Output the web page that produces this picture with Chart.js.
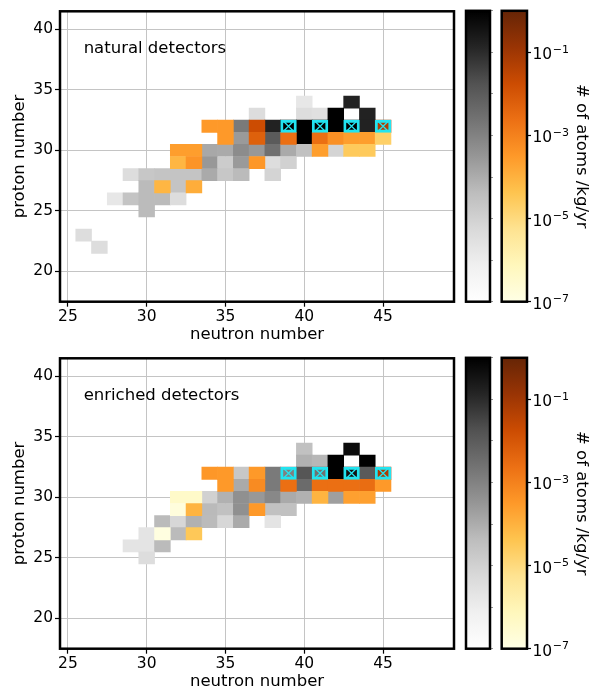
<!DOCTYPE html>
<html lang="en">
<head>
<meta charset="UTF-8">
<title>Cosmogenic activation map</title>
<script src="https://cdn.jsdelivr.net/npm/chart.js"></script>
<style>
  body { margin: 0; background: #fff; }
  .wrap { position: relative; width: 598px; height: 690px; }
  canvas { position: absolute; }
</style>
</head>
<body>
<div class="wrap">
  <canvas id="map0" width="465" height="347" style="left:0px;top:0px"></canvas>
  <canvas id="grey0" width="40" height="347" style="left:460px;top:0px"></canvas>
  <canvas id="orange0" width="102" height="347" style="left:496px;top:0px"></canvas>
  <canvas id="map1" width="465" height="347" style="left:0px;top:347px"></canvas>
  <canvas id="grey1" width="40" height="347" style="left:460px;top:347px"></canvas>
  <canvas id="orange1" width="102" height="347" style="left:496px;top:347px"></canvas>
</div>

<script>
// axis ticks
const xTicks = [25, 30, 35, 40, 45];
const yTicks = [20, 25, 30, 35, 40];
const cbTicks = [1e-7, 1e-5, 1e-3, 1e-1];
const cbMinorTicks = [1e-7, 1e-6, 1e-5, 1e-4, 1e-3, 1e-2, 1e-1, 1];
const panelLabels = ['natural detectors', 'enriched detectors'];

// boxed (crossed) nuclides
const markedN = [39, 41, 43, 45];
const markedZ = [32, 32, 32, 32];

// cells: [neutron number, proton number, log10(atoms /kg/yr)]
const naturalGrey = [
  [40, 34, -5.8], [43, 34, -0.8],
  [37, 33, -5.4], [40, 33, -5.4], [41, 33, -5.5], [42, 33, 0], [44, 33, -0.8],
  [36, 32, -2.8], [38, 32, -0.8], [39, 32, 0], [40, 32, 0], [41, 32, 0], [42, 32, 0], [43, 32, 0], [44, 32, -0.8],
  [36, 31, -3.6], [38, 31, -2.0], [40, 31, 0],
  [34, 30, -3.9], [35, 30, -3.95], [36, 30, -3.25], [37, 30, -3.55], [38, 30, -2.55], [39, 30, -3.95], [40, 30, -4.5], [42, 30, -5.1],
  [34, 29, -3.55], [35, 29, -4.85], [36, 29, -3.6], [38, 29, -5.4], [39, 29, -5.0],
  [29, 28, -5.4], [30, 28, -4.7], [31, 28, -4.6], [32, 28, -4.6], [33, 28, -4.6], [34, 28, -3.95], [35, 28, -4.7], [36, 28, -4.33], [38, 28, -5.1],
  [30, 27, -4.33], [32, 27, -4.6],
  [28, 26, -5.8], [29, 26, -4.6], [30, 26, -4.33], [31, 26, -4.33], [32, 26, -5.4],
  [30, 25, -4.33],
  [26, 23, -5.4],
  [27, 22, -5.4]
];
const naturalOrange = [
  [34, 32, -3.5], [35, 32, -3.5], [37, 32, -1.75], [45, 32, -1.25],
  [35, 31, -3.5], [37, 31, -2.25], [39, 31, -2.6], [41, 31, -2.6], [42, 31, -3.3], [43, 31, -3.6], [44, 31, -3.6], [45, 31, -4.7],
  [32, 30, -3.6], [33, 30, -3.6], [41, 30, -3.6], [43, 30, -4.55], [44, 30, -4.55],
  [32, 29, -4.1], [33, 29, -3.4], [37, 29, -3.45],
  [31, 27, -4.1], [33, 27, -3.9]
];
const enrichedGrey = [
  [40, 34, -4.5], [43, 34, -0.25],
  [40, 33, -4.1], [41, 33, -4.25], [42, 33, 0], [44, 33, 0],
  [36, 32, -4.7], [38, 32, -2.8], [39, 32, -2.95], [40, 32, -1.85], [41, 32, -2.55], [42, 32, 0], [43, 32, -0.4], [44, 32, -1.95],
  [36, 31, -3.95], [38, 31, -2.8], [40, 31, -2.4],
  [34, 30, -5.0], [35, 30, -4.1], [36, 30, -3.35], [37, 30, -3.55], [38, 30, -3.15], [39, 30, -3.95], [40, 30, -4.1], [42, 30, -3.7],
  [34, 29, -4.3], [35, 29, -4.5], [36, 29, -3.35], [38, 29, -4.5], [39, 29, -4.5],
  [31, 28, -4.33], [32, 28, -5.2], [33, 28, -4.1], [34, 28, -4.33], [35, 28, -5.2], [36, 28, -3.95], [38, 28, -5.65],
  [30, 27, -5.65], [32, 27, -4.33],
  [29, 26, -5.65], [30, 26, -5.65], [31, 26, -4.33],
  [30, 25, -5.4]
];
const enrichedOrange = [
  [34, 32, -3.45], [35, 32, -3.5], [37, 32, -3.5], [45, 32, -1.15],
  [35, 31, -3.5], [37, 31, -3.2], [39, 31, -2.6], [41, 31, -2.6], [42, 31, -2.6], [43, 31, -2.6], [44, 31, -2.55], [45, 31, -3.5],
  [32, 30, -6.4], [33, 30, -6.4], [41, 30, -4.05], [43, 30, -3.65], [44, 30, -3.65],
  [32, 29, -6.8], [33, 29, -4.05], [37, 29, -3.5],
  [31, 27, -6.9], [33, 27, -4.5]
];

// colormaps (Greys, YlOrBr), log scale 1e-7 .. 1
const greysStops = ['#ffffff', '#f0f0f0', '#d9d9d9', '#bdbdbd', '#969696', '#737373', '#525252', '#252525', '#000000'];
const ylorbrStops = ['#ffffe5', '#fff7bc', '#fee391', '#fec44f', '#fe9929', '#ec7014', '#cc4c02', '#993404', '#662506'];
const logMin = -7, logMax = 0;

function hexToRgb(h) {
  const n = parseInt(h.slice(1), 16);
  return [n >> 16, (n >> 8) & 255, n & 255];
}
function colourAt(stops, t) {
  t = Math.max(0, Math.min(1, t));
  const p = t * (stops.length - 1);
  const i = Math.min(Math.floor(p), stops.length - 2);
  const f = p - i;
  const a = hexToRgb(stops[i]), b = hexToRgb(stops[i + 1]);
  return 'rgb(' + a.map((v, k) => Math.round(v + (b[k] - v) * f)).join(',') + ')';
}
function cellColour(stops, e) {
  return colourAt(stops, (e - logMin) / (logMax - logMin));
}
function cbGradient(chart, stops) {
  const a = chart.chartArea;
  if (!a) return stops[0];
  const g = chart.ctx.createLinearGradient(0, a.bottom, 0, a.top);
  stops.forEach((c, i) => g.addColorStop(i / (stops.length - 1), c));
  return g;
}

Chart.defaults.font.family = '"DejaVu Sans", sans-serif';
Chart.defaults.color = '#000';

const framePlugin = {
  id: 'frame',
  afterDraw(chart) {
    const { ctx, chartArea: a } = chart;
    ctx.save();
    ctx.strokeStyle = '#000';
    ctx.lineWidth = 2.5;
    ctx.strokeRect(a.left, a.top, a.right - a.left, a.bottom - a.top);
    ctx.restore();
  }
};
const panelLabelPlugin = {
  id: 'panelLabel',
  afterDatasetsDraw(chart, args, opts) {
    if (!opts.text) return;
    const { ctx, chartArea: a } = chart;
    ctx.save();
    ctx.font = '16.5px "DejaVu Sans"';
    ctx.fillStyle = '#000';
    ctx.textBaseline = 'alphabetic';
    ctx.fillText(opts.text, a.left + 0.06 * (a.right - a.left), a.top + 0.145 * (a.bottom - a.top));
    ctx.restore();
  }
};
// 10^n labels with a raised exponent, placed at the log axis tick positions
const powerLabelPlugin = {
  id: 'powerLabels',
  afterDraw(chart, args, opts) {
    if (!opts.values) return;
    const { ctx, chartArea: a } = chart;
    const scale = chart.scales.y;
    ctx.save();
    ctx.fillStyle = '#000';
    ctx.textBaseline = 'alphabetic';
    ctx.textAlign = 'left';
    opts.values.forEach(v => {
      const y = scale.getPixelForValue(v);
      const e = Math.round(Math.log10(v));
      const x = a.right + 5.5;
      ctx.font = '15.5px "DejaVu Sans"';
      ctx.fillText('10', x, y + 7);
      const w = ctx.measureText('10').width;
      ctx.font = '11px "DejaVu Sans"';
      ctx.fillText(String(e).replace('-', '\u2212'), x + w + 0.5, y + 0.5);
    });
    ctx.restore();
  }
};

function cellBars(cells, stops, order) {
  return {
    type: 'bar',
    data: cells.map(c => ({ x: c[0], y: [c[1] - 0.5, c[1] + 0.5] })),
    backgroundColor: cells.map(c => cellColour(stops, c[2])),
    borderWidth: 0,
    grouped: false,
    barPercentage: 1,
    categoryPercentage: 1,
    order: order
  };
}

function makeMap(id, greyCells, orangeCells, label) {
  new Chart(document.getElementById(id), {
    type: 'bar',
    data: {
      datasets: [
        {
          type: 'scatter',
          data: markedN.map((n, i) => ({ x: n, y: markedZ[i] })),
          pointStyle: 'crossRot',
          pointRadius: 7.5,
          borderColor: '#22e4f0',
          borderWidth: 1.3,
          backgroundColor: 'rgba(0,0,0,0)',
          order: 0
        },
        {
          type: 'bar',
          data: markedN.map((n, i) => ({ x: n, y: [markedZ[i] - 0.5, markedZ[i] + 0.5] })),
          backgroundColor: 'rgba(0,0,0,0)',
          borderColor: '#22e4f0',
          borderWidth: 2.2,
          borderSkipped: false,
          grouped: false,
          barPercentage: 1,
          categoryPercentage: 1,
          order: 1
        },
        cellBars(orangeCells, ylorbrStops, 2),
        cellBars(greyCells, greysStops, 3)
      ]
    },
    options: {
      responsive: false,
      animation: false,
      layout: { padding: { top: 10.7, right: 11, bottom: 0, left: 0 } },
      plugins: {
        legend: { display: false },
        tooltip: { enabled: false },
        panelLabel: { text: label }
      },
      scales: {
        x: {
          type: 'linear',
          min: 24.5,
          max: 49.5,
          offset: false,
          afterBuildTicks: s => { s.ticks = xTicks.map(v => ({ value: v })); },
          afterFit: s => { s.height = 45.3; },
          ticks: { font: { size: 15.5 }, padding: 1, maxRotation: 0, autoSkip: false },
          grid: { offset: false, color: '#c4c4c4', lineWidth: 1, tickColor: '#000', tickLength: 5, tickWidth: 1.2 },
          border: { display: false },
          title: { display: true, text: 'neutron number', font: { size: 16.5 }, padding: { top: 0, bottom: 2.1 } }
        },
        y: {
          type: 'linear',
          min: 17.5,
          max: 41.5,
          afterBuildTicks: s => { s.ticks = yTicks.map(v => ({ value: v })); },
          afterFit: s => { s.width = 60; },
          ticks: { font: { size: 15.5 }, padding: 2, autoSkip: false },
          grid: { color: '#c4c4c4', lineWidth: 1, tickColor: '#000', tickLength: 5, tickWidth: 1.2 },
          border: { display: false },
          title: { display: true, text: 'proton number', font: { size: 16.5 }, padding: { top: 9.4, bottom: 0 } }
        }
      }
    },
    plugins: [framePlugin, panelLabelPlugin]
  });
}

function makeColourbar(id, stops, withLabels) {
  new Chart(document.getElementById(id), {
    type: 'bar',
    data: {
      labels: [''],
      datasets: [{
        data: [[1e-7, 1]],
        backgroundColor: ctx => cbGradient(ctx.chart, stops),
        borderWidth: 0,
        barPercentage: 1,
        categoryPercentage: 1
      }]
    },
    options: {
      responsive: false,
      animation: false,
      layout: { padding: { top: 10.7, bottom: 45.3, left: withLabels ? 5.7 : 6, right: 0 } },
      plugins: {
        legend: { display: false },
        tooltip: { enabled: false },
        powerLabels: { values: withLabels ? cbTicks : null }
      },
      scales: {
        x: { display: false },
        y: {
          type: 'logarithmic',
          position: 'right',
          min: 1e-7,
          max: 1,
          afterBuildTicks: s => { s.ticks = (withLabels ? cbTicks : cbMinorTicks).map(v => ({ value: v })); },
          afterFit: s => { s.width = withLabels ? 71 : 10; },
          ticks: { autoSkip: false, font: { size: 15.5 }, padding: 1.5, callback: () => '' },
          grid: {
            drawOnChartArea: false,
            tickColor: withLabels ? '#000' : '#777',
            tickLength: withLabels ? 4 : 3,
            tickWidth: withLabels ? 1.2 : 0.8
          },
          border: { display: false },
          title: {
            display: withLabels,
            text: '# of atoms /kg/yr',
            font: { size: 16.5 },
            padding: { top: 7.1, bottom: 0 }
          }
        }
      }
    },
    plugins: [framePlugin, powerLabelPlugin]
  });
}

makeMap('map0', naturalGrey, naturalOrange, panelLabels[0]);
makeColourbar('grey0', greysStops, false);
makeColourbar('orange0', ylorbrStops, true);
makeMap('map1', enrichedGrey, enrichedOrange, panelLabels[1]);
makeColourbar('grey1', greysStops, false);
makeColourbar('orange1', ylorbrStops, true);
</script>
</body>
</html>
